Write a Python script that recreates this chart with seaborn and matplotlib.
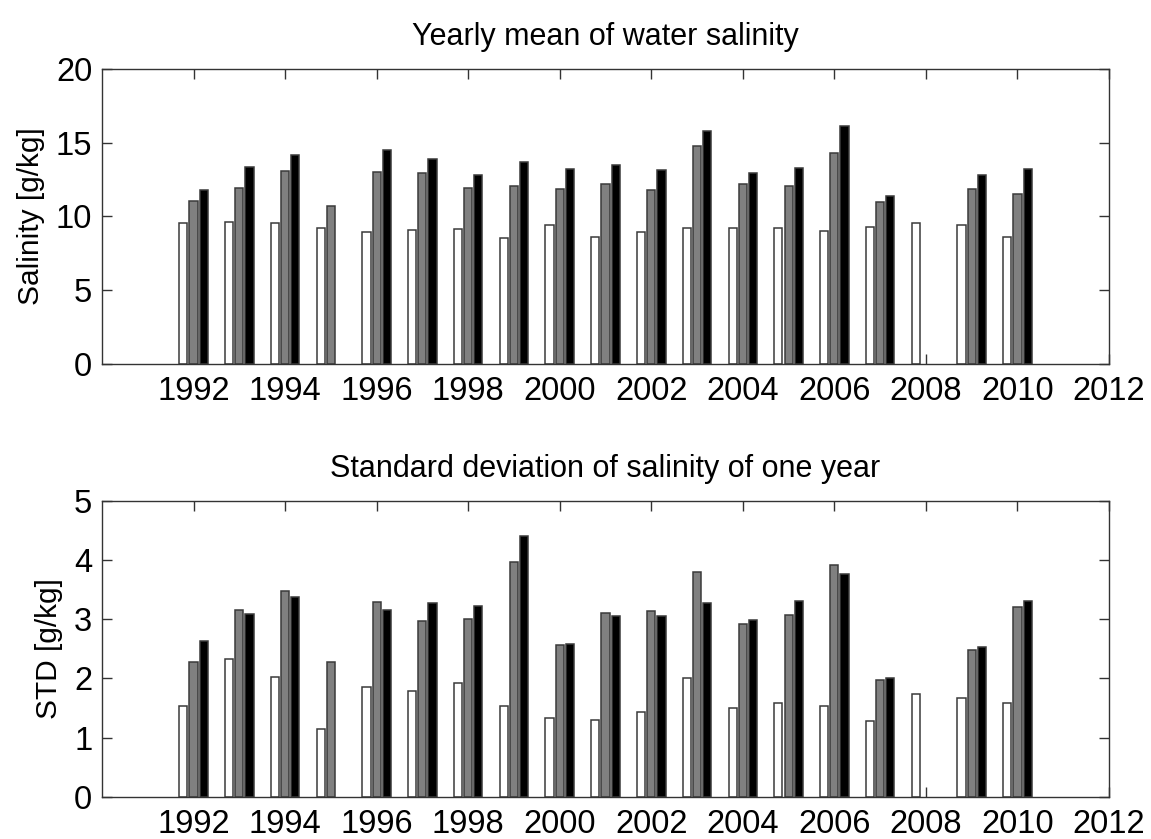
import numpy as np
import pandas as pd
import matplotlib
matplotlib.use("Agg")
import matplotlib.pyplot as plt
import seaborn as sns

years = list(range(1992, 2011))

# Yearly mean salinity [g/kg]; None = no bar
mean_white = [9.58, 9.6, 9.56, 9.24, 8.95, 9.06, 9.18, 8.52, 9.42, 8.63,
              8.95, 9.24, 9.2, 9.22, 9.02, 9.31, 9.53, 9.4, 8.63]
mean_gray = [11.05, 11.9, 13.08, 10.71, 13.02, 12.93, 11.93, 12.09, 11.89, 12.18,
             11.77, 14.76, 12.18, 12.09, 14.31, 10.98, None, 11.84, 11.5]
mean_black = [11.8, 13.38, 14.2, None, 14.53, 13.9, 12.84, 13.67, 13.2, 13.51,
              13.15, 15.77, 12.95, 13.27, 16.11, 11.41, None, 12.81, 13.24]

# Standard deviation of salinity of one year [g/kg]
std_white = [1.53, 2.33, 2.02, 1.15, 1.85, 1.78, 1.93, 1.53, 1.33, 1.3,
             1.44, 2.0, 1.5, 1.59, 1.54, 1.28, 1.74, 1.67, 1.59]
std_gray = [2.27, 3.15, 3.48, 2.27, 3.29, 2.97, 3.01, 3.97, 2.56, 3.10,
            3.13, 3.8, 2.92, 3.07, 3.92, 1.97, None, 2.48, 3.21]
std_black = [2.64, 3.09, 3.37, None, 3.15, 3.27, 3.23, 4.4, 2.58, 3.06,
             3.05, 3.27, 2.98, 3.31, 3.76, 2.0, None, 2.53, 3.31]

series_names = ["white", "gray", "black"]
palette = {"white": "#ffffff", "gray": "#808080", "black": "#000000"}

xticks = list(range(1992, 2013, 2))
mean_yticks = [0, 5, 10, 15, 20]
std_yticks = [0, 1, 2, 3, 4, 5]


def make_df(w, g, b):
    rows = []
    for name, vals in zip(series_names, [w, g, b]):
        for yr, v in zip(years, vals):
            if v is not None:
                rows.append({"year": yr, "value": v, "series": name})
    return pd.DataFrame(rows)


sns.set_style("ticks")
plt.rcParams["font.family"] = ["Liberation Sans", "DejaVu Sans"]
plt.rcParams["text.color"] = "black"
plt.rcParams["axes.labelcolor"] = "black"
plt.rcParams["xtick.labelcolor"] = "black"
plt.rcParams["ytick.labelcolor"] = "black"

fig = plt.figure(figsize=(11.51, 8.39), dpi=100)
ax1 = fig.add_axes([0.0886, 0.5662, 0.8749, 0.3516])
ax2 = fig.add_axes([0.0886, 0.0501, 0.8749, 0.3532])

edge = "#3a3a3a"

for ax, df, title, ylabel, yticks, ylim in [
    (ax1, make_df(mean_white, mean_gray, mean_black),
     "Yearly mean of water salinity", "Salinity [g/kg]", mean_yticks, (0, 20)),
    (ax2, make_df(std_white, std_gray, std_black),
     "Standard deviation of salinity of one year", "STD [g/kg]", std_yticks, (0, 5)),
]:
    sns.barplot(data=df, x="year", y="value", hue="series", hue_order=series_names,
                palette=palette, native_scale=True, width=0.667, gap=0.2,
                dodge=True, errorbar=None, edgecolor=edge, linewidth=1.1,
                legend=False, ax=ax)
    ax.set_xlim(1990, 2012)
    ax.set_ylim(*ylim)
    ax.set_xticks(xticks)
    ax.set_xticklabels([str(t) for t in xticks])
    ax.set_yticks(yticks)
    ax.set_yticklabels([str(t) for t in yticks])
    ax.tick_params(direction="in", length=7.5, width=1.0, color="#333333",
                   top=True, right=True, labelsize=23.5, pad=7)
    ax.tick_params(axis="x", pad=9)
    for s in ax.spines.values():
        s.set_visible(True)
        s.set_color("#333333")
        s.set_linewidth(1.0)
    ax.set_xlabel("")
    ax.set_ylabel(ylabel, fontsize=21.5, labelpad=8)
    ax.set_title(title, fontsize=22, pad=17)

fig.savefig("out.png", dpi=100)
